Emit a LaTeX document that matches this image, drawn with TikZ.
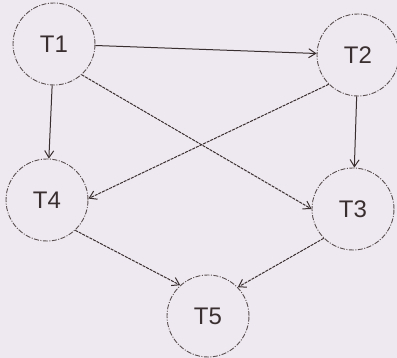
\documentclass[tikz,border=0pt]{standalone}
\usepackage{fontspec}
\setsansfont{Liberation Sans}
\usetikzlibrary{arrows.meta}
\definecolor{bgc}{HTML}{EEE9F0}
\definecolor{ink}{HTML}{3A2F30}
\begin{document}
\begin{tikzpicture}[x=1pt,y=-1pt,
  tnode/.style={circle,draw=ink!85,line width=0.9pt,dash pattern=on 5pt off 1.5pt on 1pt off 1.5pt,
    minimum size=82pt,inner sep=0pt,font=\sffamily\fontsize{24}{24}\selectfont,text=ink},
  arr/.style={draw=ink,line width=1pt,-{Straight Barb[length=7pt,width=9pt]}},
  dsh/.style={arr,dash pattern=on 3pt off 1pt}]
\fill[bgc] (0,0) rectangle (397,358);
\useasboundingbox (0,0) rectangle (397,358);
\node[tnode] (T1) at (54,44) {T1};
\node[tnode] (T2) at (358,55) {T2};
\node[tnode] (T3) at (353,209) {T3};
\node[tnode] (T4) at (47,200) {T4};
\node[tnode] (T5) at (208,316) {T5};
\draw[arr] (T1) -- (T2);
\draw[arr] (T1) -- (T4);
\draw[arr] (T2) -- (T3);
\draw[dsh] (T1.-48) -- (T3.180);
\draw[dsh] (T2.-135) -- (T4.2);
\draw[dsh] (T4.-47) -- (T5.132);
\draw[dsh] (T3.-135) -- (T5.44);
\end{tikzpicture}
\end{document}
